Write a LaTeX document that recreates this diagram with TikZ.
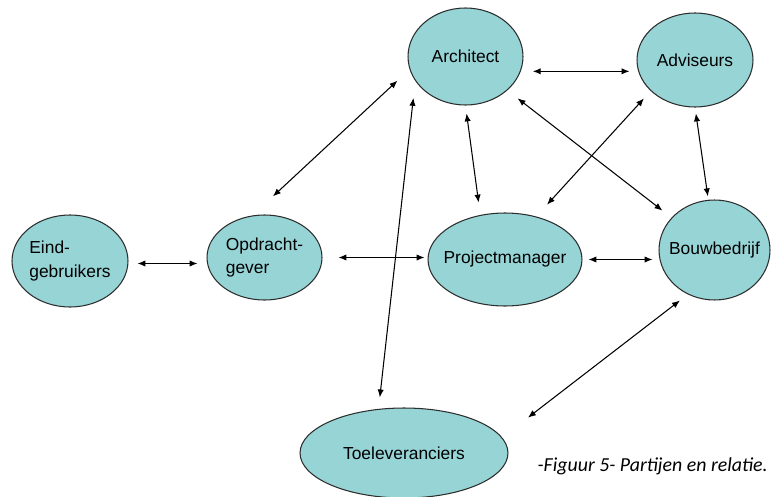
\documentclass[tikz,border=0pt]{standalone}
\usepackage{fontspec}
\setmainfont{Liberation Sans}
\newfontfamily\figfont{Carlito}
\usetikzlibrary{arrows.meta,shapes.geometric}
\definecolor{partyFill}{RGB}{150,212,214}
\definecolor{partyLine}{RGB}{45,45,45}

\begin{document}
\begin{tikzpicture}[x=0.02cm,y=-0.02cm,
    party/.style={ellipse,draw=partyLine,line width=0.6pt,fill=partyFill,inner xsep=-8pt,inner ysep=0pt,align=left,font=\fontsize{9.9}{13.5}\selectfont},
    link/.style={{Latex[length=4.5pt,width=3.6pt]}-{Latex[length=4.5pt,width=3.6pt]},line width=0.6pt}
  ]
  \useasboundingbox (0,0) rectangle (771,497);
  \node[party,minimum width=2.3cm,minimum height=1.94cm] (arch) at (465.5,56.5) {Architect};
  \node[party,minimum width=2.32cm,minimum height=1.88cm] (adv) at (695,60) {Adviseurs};
  \node[party,minimum width=2.32cm,minimum height=1.84cm] (eind) at (70,261) {Eind-\\gebruikers};
  \node[party,minimum width=2.3cm,minimum height=1.7cm] (opd) at (264.5,257.5) {Opdracht-\\gever};
  \node[party,minimum width=3.08cm,minimum height=1.86cm] (pm) at (505,259.5) {Projectmanager};
  \node[party,minimum width=2.22cm,minimum height=2cm] (bouw) at (714.5,250) {Bouwbedrijf};
  \node[party,minimum width=4.16cm,minimum height=1.8cm] (toel) at (404,453) {Toeleveranciers};
  \draw[link,shorten <=0.18cm,shorten >=0.18cm] ([yshift=-0.05cm]eind.east) -- ([yshift=-0.05cm]eind.east -| opd.west);
  \draw[link,shorten <=0.32cm,shorten >=0.06cm] (opd.east) -- (opd.east -| pm.west);
  \draw[link,shorten <=0.12cm,shorten >=0.12cm] (pm.east) -- (pm.east -| bouw.west);
  \draw[link,shorten <=0.24cm,shorten >=0.14cm] (arch.-15) -- (arch.-15 -| adv.west);
  \draw[link,shorten <=0.56cm,shorten >=0.33cm] (opd.106) -- (arch.193);
  \draw[link,shorten <=0.34cm,shorten >=0.23cm] (arch.206) -- (toel.120);
  \draw[link,shorten <=0.16cm,shorten >=0.25cm] (arch.south) -- (pm.119);
  \draw[link,shorten <=0.26cm,shorten >=0.23cm] (arch.-39) -- (bouw.143);
  \draw[link,shorten <=0.2cm,shorten >=0.32cm] (adv.215) -- (pm.54);
  \draw[link,shorten <=0.12cm,shorten >=0.07cm] (adv.south) -- (bouw.97);
  \draw[link,shorten <=0.2cm,shorten >=0.65cm] (bouw.239) -- (toel.9.5);
  \node[inner sep=0pt,anchor=base east,font=\figfont\itshape\fontsize{11.3}{13}\selectfont] (caption) at (768,471) {-Figuur 5- Partijen en relatie.};
\end{tikzpicture}
\end{document}
